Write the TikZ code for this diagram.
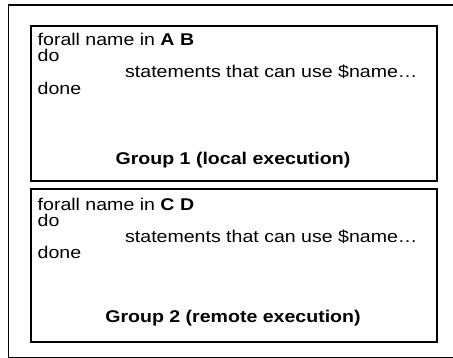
\documentclass[tikz,border=0pt]{standalone}
\usepackage{fontspec}
\setmainfont[FakeStretch=1.15]{Liberation Sans}
\begin{document}
\begin{tikzpicture}[x=1pt,y=-1pt,
  box/.style={draw, line width=1.8pt, inner sep=0pt, anchor=north west},
  txt/.style={anchor=base west, inner sep=0pt, text height=12.5pt, text depth=1pt, font=\fontsize{17}{20}\selectfont},
  ttl/.style={anchor=base, inner sep=0pt, text height=12.5pt, text depth=3pt, font=\fontsize{17}{20}\selectfont\bfseries}]
\useasboundingbox (0,0) rectangle (453,358);
\clip (0,0) rectangle (453,358);
\node[box, minimum width=460pt, minimum height=353pt] (outer) at (7.5,4) {};
\node[box, minimum width=406pt, minimum height=155pt] (g1) at (30,25) {};
\node[box, minimum width=406pt, minimum height=153pt] (g2) at (30,188) {};
% group 1
\node[txt] (a1) at (37.5,46) {forall name in \textbf{A B}};
\node[txt] (a2) at (37.5,62) {do};
\node[txt] (a3) at (125,78) {statements that can use \$name…};
\node[txt] (a4) at (37.5,94.5) {done};
\node[ttl] (a5) at (233,164.5) {Group 1 (local execution)};
% group 2
\node[txt] (b1) at (37.5,211) {forall name in \textbf{C D}};
\node[txt] (b2) at (37.5,227) {do};
\node[txt] (b3) at (125,243) {statements that can use \$name…};
\node[txt] (b4) at (37.5,259) {done};
\node[ttl] (b5) at (233,323) {Group 2 (remote execution)};
\end{tikzpicture}
\end{document}
